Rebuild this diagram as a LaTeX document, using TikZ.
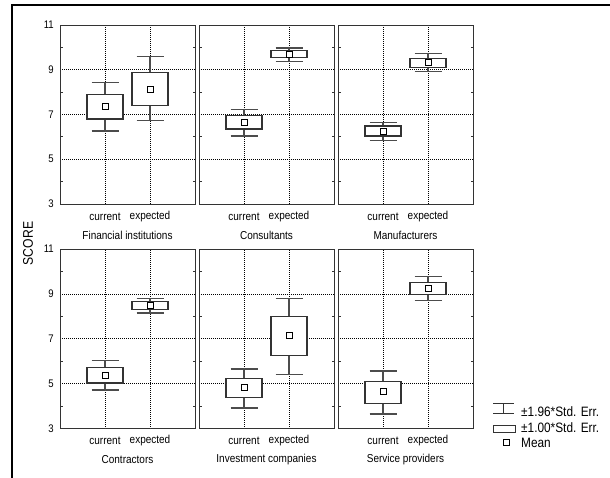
\documentclass[tikz,border=0pt]{standalone}
\usepackage{fontspec}
\setmainfont{Liberation Sans}
\newfontfamily\cond{Liberation Sans}[FakeStretch=0.87]
\tikzset{
  frameline/.style={draw=black!80, line width=1pt},
  gridline/.style={black, line width=0.6pt, dash pattern=on 1pt off 1pt},
  tickline/.style={black!80, line width=0.8pt},
  whisk/.style={draw=black!70, line width=1.4pt},
  boxst/.style={draw=black!80, fill=white, line width=1.2pt},
  meanst/.style={draw=black, fill=white, line width=0.9pt, minimum size=6pt, inner sep=0pt, rectangle},
  ticklab/.style={font=\cond\fontsize{11}{13}\selectfont, inner sep=0pt, anchor=east},
  catlab/.style={font=\cond\fontsize{11.5}{13}\selectfont, inner sep=0pt},
  leglab/.style={font=\cond\fontsize{13.6}{15}\selectfont, inner sep=0pt, anchor=west},
}
\newcommand\onebox[6]{%
  \draw[whisk] (#1,#2-3) -- (#1,#5-3);
  \draw[whisk] (#1-13.5,#2-3) -- (#1+13.5,#2-3);
  \draw[whisk] (#1-13.5,#5-3) -- (#1+13.5,#5-3);
  \draw[boxst] (#1-18,#4-3) rectangle (#1+18,#3-3);
  \node[meanst] at (#1,#6-3) {};
}
\newcommand\mypanel[4]{%
  \begin{scope}[shift={(#1pt,-#2pt)}, x=1pt, y=#3]
    \foreach \gx in {45,90} \draw[gridline] (\gx,0) -- (\gx,8);
    \foreach \gy in {2,4,6} \draw[gridline] (0,\gy) -- (135,\gy);
    \foreach \gy in {1,3,5,7} {
      \draw[tickline] (0,\gy) -- (2.5,\gy);
      \draw[tickline] (135,\gy) -- (132.5,\gy);
    }
    #4
    \draw[frameline] (0,0) rectangle (135,8);
  \end{scope}}
\begin{document}
\begin{tikzpicture}[x=1pt, y=-1pt]
  \useasboundingbox (0,0) rectangle (610,477);
  \fill[white] (0,0) rectangle (610,477);
  \draw[line width=2pt] (12,480) -- (12,5) -- (612,5);

  % top row
  \mypanel{60}{204}{22.375pt}{%
    \onebox{45}{8.44}{7.90}{6.80}{6.26}{7.35}
    \onebox{90}{9.58}{8.89}{7.42}{6.72}{8.14}}
  \mypanel{199}{204}{22.375pt}{%
    \onebox{45}{7.23}{6.95}{6.35}{6.04}{6.65}
    \onebox{90}{9.98}{9.85}{9.53}{9.38}{9.69}}
  \mypanel{338}{204}{22.375pt}{%
    \onebox{45}{6.65}{6.49}{6.04}{5.85}{6.26}
    \onebox{90}{9.73}{9.51}{9.09}{8.91}{9.31}}
  % bottom row
  \mypanel{60}{428.5}{22.4375pt}{%
    \onebox{45}{6.02}{5.72}{5.03}{4.71}{5.38}
    \onebox{90}{8.80}{8.67}{8.31}{8.14}{8.49}}
  \mypanel{199}{428.5}{22.4375pt}{%
    \onebox{45}{5.65}{5.23}{4.37}{3.92}{4.81}
    \onebox{90}{8.80}{7.98}{6.26}{5.42}{7.13}}
  \mypanel{338}{428.5}{22.4375pt}{%
    \onebox{45}{5.57}{5.11}{4.12}{3.65}{4.63}
    \onebox{90}{9.77}{9.51}{8.98}{8.71}{9.25}}

  % y tick labels
  \foreach \v/\yy [count=\i] in {11/25,9/69.75,7/114.5,5/159.25,3/204} {
    \node[ticklab] (ta\i) at (54,\yy) {\v};
  }
  \foreach \v/\yy [count=\i] in {11/249,9/293.9,7/338.75,5/383.6,3/428.5} {
    \node[ticklab] (tb\i) at (54,\yy) {\v};
  }
  \node[font=\cond\fontsize{14}{16}\selectfont, rotate=90, inner sep=0pt] (score) at (28,243.5) {SCORE};

  % category labels
  \foreach \xl [count=\i] in {60,199,338} {
    \node[catlab] (ca\i) at (\xl+45,216.5) {current};
    \node[catlab] (ea\i) at (\xl+90,216.5) {expected};
    \node[catlab] (cb\i) at (\xl+45,440.5) {current};
    \node[catlab] (eb\i) at (\xl+90,440.5) {expected};
  }
  \node[catlab] (n1) at (127.5,235) {Financial institutions};
  \node[catlab] (n2) at (266.5,235) {Consultants};
  \node[catlab] (n3) at (405.5,235) {Manufacturers};
  \node[catlab] (n4) at (127.5,459.5) {Contractors};
  \node[catlab] (n5) at (266.5,459.5) {Investment companies};
  \node[catlab] (n6) at (405.5,459.5) {Service providers};

  % legend
  \draw[black!80, line width=1pt] (493,403.5) -- (514,403.5);
  \draw[black!80, line width=1pt] (493,413.5) -- (514,413.5);
  \draw[black!80, line width=1pt] (503.5,403.5) -- (503.5,413.5);
  \draw[black!80, line width=1pt] (493.5,425) rectangle (515,432.5);
  \node[meanst, line width=0.8pt] (lm) at (506,442.5) {};
  \node[leglab] (l1) at (521,411.5) {±1.96*Std. Err.};
  \node[leglab] (l2) at (521,427.5) {±1.00*Std. Err.};
  \node[leglab] (l3) at (521,443) {Mean};
\end{tikzpicture}
\end{document}
